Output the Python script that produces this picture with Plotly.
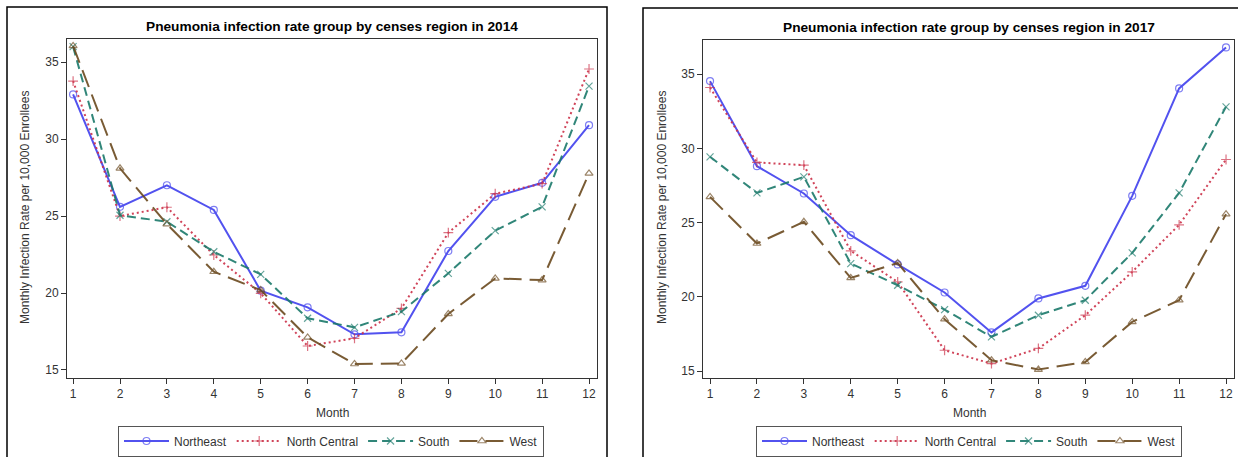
import plotly.graph_objects as go

W, H = 1238, 457

months = [1, 2, 3, 4, 5, 6, 7, 8, 9, 10, 11, 12]
regions = ["Northeast", "North Central", "South", "West"]

# 2014 values
ne_2014 = [32.9, 25.6, 27.0, 25.4, 20.15, 19.07, 17.32, 17.45, 22.73, 26.25, 27.16, 30.9]
nc_2014 = [33.77, 25.0, 25.57, 22.47, 19.98, 16.56, 17.06, 19.0, 23.92, 26.45, 27.1, 34.55]
so_2014 = [36.0, 25.05, 24.63, 22.68, 21.21, 18.36, 17.77, 18.79, 21.28, 24.05, 25.6, 33.44]
we_2014 = [36.05, 28.1, 24.48, 21.38, 20.19, 17.12, 15.39, 15.43, 18.64, 20.95, 20.84, 27.77]

# 2017 values
ne_2017 = [34.53, 28.8, 26.96, 24.15, 22.18, 20.29, 17.6, 19.89, 20.74, 26.8, 34.04, 36.8]
nc_2017 = [34.1, 29.05, 28.87, 23.1, 21.0, 16.4, 15.5, 16.52, 18.76, 21.68, 24.85, 29.25]
so_2017 = [29.43, 27.0, 28.08, 22.24, 20.78, 19.14, 17.3, 18.76, 19.77, 22.96, 27.0, 32.8]
we_2017 = [26.73, 23.59, 25.05, 21.27, 22.28, 18.49, 15.73, 15.1, 15.61, 18.31, 19.77, 25.57]

titles = ["Pneumonia infection rate group by censes region in 2014",
          "Pneumonia infection rate group by censes region in 2017"]

colors = ["#4040ee", "#cc3048", "#1b7a6b", "#6b4a1f"]
dashes = ["solid", "2px,3px", "9px,5px", "18px,8px"]
symbols = ["circle-open", "cross-thin-open", "x-thin-open", "triangle-up-open"]

FONT = "Liberation Sans, Arial, sans-serif"

def px(x):
    return x / W

def py(y):
    return 1 - y / H

fig = go.Figure()

panels = [
    dict(data=[ne_2014, nc_2014, so_2014, we_2014], xa="x", ya="y", leg="legend"),
    dict(data=[ne_2017, nc_2017, so_2017, we_2017], xa="x2", ya="y2", leg="legend2"),
]

for p in panels:
    for i, vals in enumerate(p["data"]):
        fig.add_trace(go.Scatter(
            x=months, y=vals, name=regions[i], mode="lines+markers",
            xaxis=p["xa"], yaxis=p["ya"], legend=p["leg"],
            line=dict(color=colors[i], width=2, dash=dashes[i]),
            marker=dict(symbol=symbols[i], size=7, color=colors[i],
                        line=dict(width=1.2, color=colors[i]), opacity=0.75),
            opacity=0.9,
        ))

axis_common = dict(showgrid=False, zeroline=False, showline=True, mirror=True,
                   linecolor="#333333", linewidth=1, ticks="outside", ticklen=5,
                   tickcolor="#333333", tickfont=dict(family=FONT, size=12, color="#333333"))

fig.update_layout(
    width=W, height=H, margin=dict(l=0, r=0, t=0, b=0),
    paper_bgcolor="white", plot_bgcolor="white",
    font=dict(family=FONT, size=12, color="#333333"),
    xaxis=dict(domain=[px(67), px(597)], range=[0.87, 12.17], anchor="y",
               tickvals=months, **axis_common),
    yaxis=dict(domain=[py(378), py(39)], range=[14.48, 36.5], anchor="x",
               dtick=5, tick0=15, **axis_common),
    xaxis2=dict(domain=[px(703), px(1234)], range=[0.85, 12.17], anchor="y2",
                tickvals=months, **axis_common),
    yaxis2=dict(domain=[py(378), py(40)], range=[14.53, 37.3], anchor="x2",
                dtick=5, tick0=15, **axis_common),
    legend=dict(orientation="h", x=px(331), xanchor="center", y=py(441), yanchor="middle",
                bordercolor="#555555", borderwidth=1, font=dict(size=12, family=FONT),
                itemwidth=45, tracegroupgap=0, bgcolor="white"),
    legend2=dict(orientation="h", x=px(969), xanchor="center", y=py(441), yanchor="middle",
                 bordercolor="#555555", borderwidth=1, font=dict(size=12, family=FONT),
                 itemwidth=45, tracegroupgap=0, bgcolor="white"),
)

annotations = []
for cx, ty, ylx, title in [(332, 26, 25, titles[0]), (969, 27, 662, titles[1])]:
    annotations.append(dict(text="<b>" + title + "</b>", x=px(cx), y=py(ty), xref="paper", yref="paper",
                            showarrow=False, xanchor="center", yanchor="middle",
                            font=dict(family=FONT, size=13.7, color="#000000")))
    annotations.append(dict(text="Month", x=px(cx), y=py(413), xref="paper", yref="paper",
                            showarrow=False, xanchor="center", yanchor="middle",
                            font=dict(family=FONT, size=12, color="#333333")))
    annotations.append(dict(text="Monthly Infection Rate per 10,000 Enrollees", x=px(ylx), y=py(208),
                            xref="paper", yref="paper", textangle=-90,
                            showarrow=False, xanchor="center", yanchor="middle",
                            font=dict(family=FONT, size=12, color="#333333")))
fig.update_layout(annotations=annotations)

shapes = [
    dict(type="rect", xref="paper", yref="paper", x0=px(7), x1=px(607), y0=py(470), y1=py(7),
         line=dict(color="black", width=1.5)),
    dict(type="rect", xref="paper", yref="paper", x0=px(643), x1=px(1250), y0=py(470), y1=py(8),
         line=dict(color="black", width=1.5)),
]
fig.update_layout(shapes=shapes)

fig.write_html("out.html")
